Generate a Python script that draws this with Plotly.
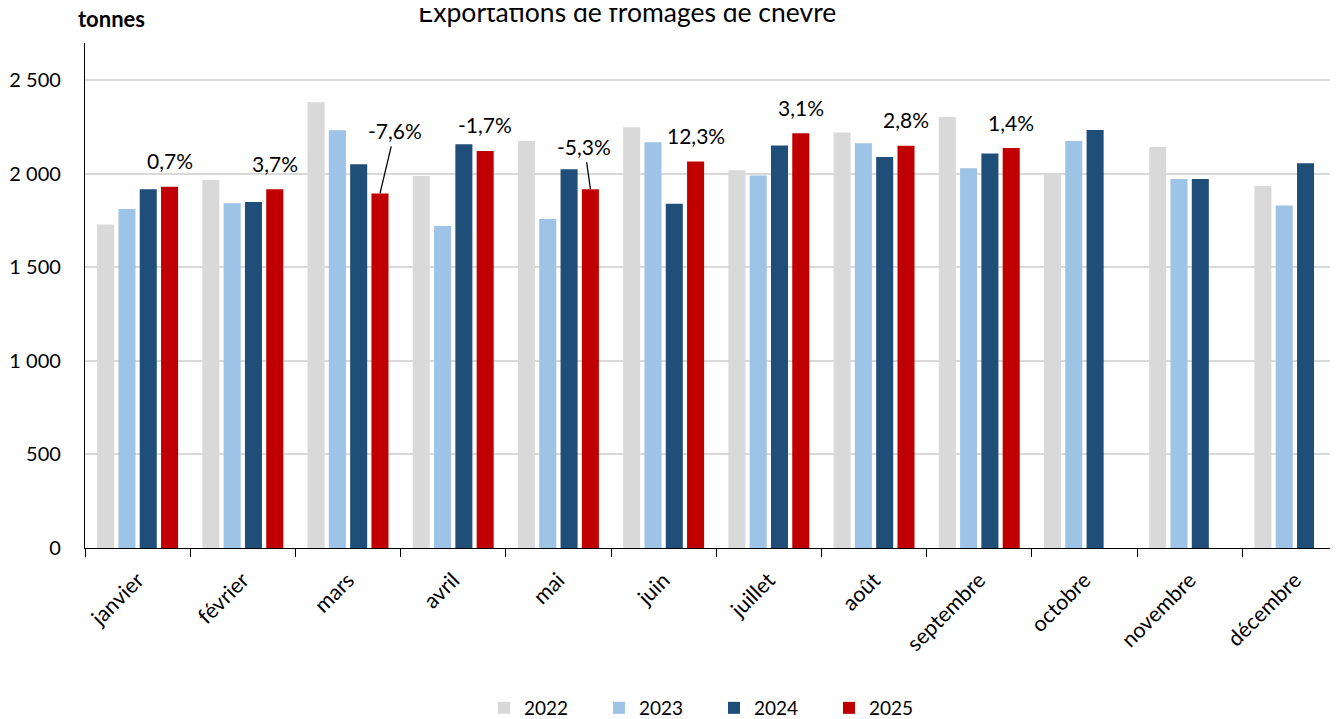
import plotly.graph_objects as go

months = ["janvier", "février", "mars", "avril", "mai", "juin", "juillet",
          "août", "septembre", "octobre", "novembre", "décembre"]
years = ["2022", "2023", "2024", "2025"]
v2022 = [1729, 1968, 2383, 1989, 2176, 2250, 2020, 2221, 2305, 2000, 2144, 1936]
v2023 = [1813, 1843, 2234, 1722, 1759, 2169, 1991, 2164, 2030, 2176, 1973, 1831]
v2024 = [1918, 1850, 2052, 2159, 2025, 1840, 2152, 2091, 2109, 2235, 1973, 2057]
v2025 = [1932, 1918, 1896, 2123, 1918, 2066, 2218, 2150, 2138, None, None, None]
pct_labels = ["0,7%", "3,7%", "-7,6%", "-1,7%", "-5,3%", "12,3%", "3,1%", "2,8%", "1,4%"]
colors = ["#D9D9D9", "#9DC3E6", "#1F4E79", "#C00000"]

FONT = "Lato, 'Open Sans', sans-serif"

fig = go.Figure()
for name, vals, col in zip(years, [v2022, v2023, v2024, v2025], colors):
    fig.add_trace(go.Bar(x=months, y=vals, name=name, marker_color=col,
                         marker_line_width=0))

# percentage annotations above 2025 bars
leaders = {"mars": (15, -63), "mai": (-6, -43)}
for m, val, lab in zip(months, v2025, pct_labels):
    if m in leaders:
        ax, ay = leaders[m]
        fig.add_annotation(x=m, y=val, text=lab, xshift=32, showarrow=True,
                           arrowhead=0, arrowwidth=1.3, arrowcolor="black",
                           ax=ax, ay=ay, standoff=0, startstandoff=2,
                           font=dict(size=21, color="black", family=FONT))
    else:
        fig.add_annotation(x=m, y=val, text=lab, xshift=32, yshift=26,
                           yanchor="middle", showarrow=False,
                           font=dict(size=21, color="black", family=FONT))

fig.add_annotation(xref="paper", yref="paper", x=0.4326, y=(540 - 4) / 505,
                   text="Exportations de fromages de chèvre", showarrow=False,
                   xanchor="center", yanchor="middle",
                   font=dict(size=26.5, color="black", family=FONT))
fig.add_annotation(xref="paper", yref="paper", x=0.0215, y=(540 - 11) / 505,
                   text="<b>tonnes</b>", showarrow=False,
                   xanchor="center", yanchor="middle",
                   font=dict(size=22, color="black", family=FONT))

fig.update_layout(
    width=1330, height=711,
    margin=dict(l=77, r=0, t=35, b=171, autoexpand=False),
    paper_bgcolor="white", plot_bgcolor="white",
    separators=", ",
    barmode="group", bargap=0.19, bargroupgap=0.2,
    font=dict(family=FONT, size=19, color="black"),
    showlegend=True,
    legend=dict(orientation="h", x=0.502, xanchor="center", y=(540 - 700) / 505,
                yanchor="middle", font=dict(size=19), entrywidth=70,
                traceorder="normal"),
)
fig.update_xaxes(range=[-0.5, 11.41], showline=True, linecolor="black",
                 linewidth=1.3, ticks="outside", tickson="boundaries",
                 ticklen=8, tickcolor="black", tickwidth=1.3, tickangle=-45,
                 showgrid=False, tickfont=dict(size=21.5), automargin=False,
                 ticklabelstandoff=10)
fig.update_yaxes(range=[0, 2700], dtick=500, tickformat=",d", showline=True,
                 linecolor="black", linewidth=1.3, showgrid=True,
                 gridcolor="#D9D9D9", gridwidth=1.5, ticks="", zeroline=False,
                 tickfont=dict(size=20), ticklabelstandoff=19, automargin=False)

fig.write_html("out.html")
